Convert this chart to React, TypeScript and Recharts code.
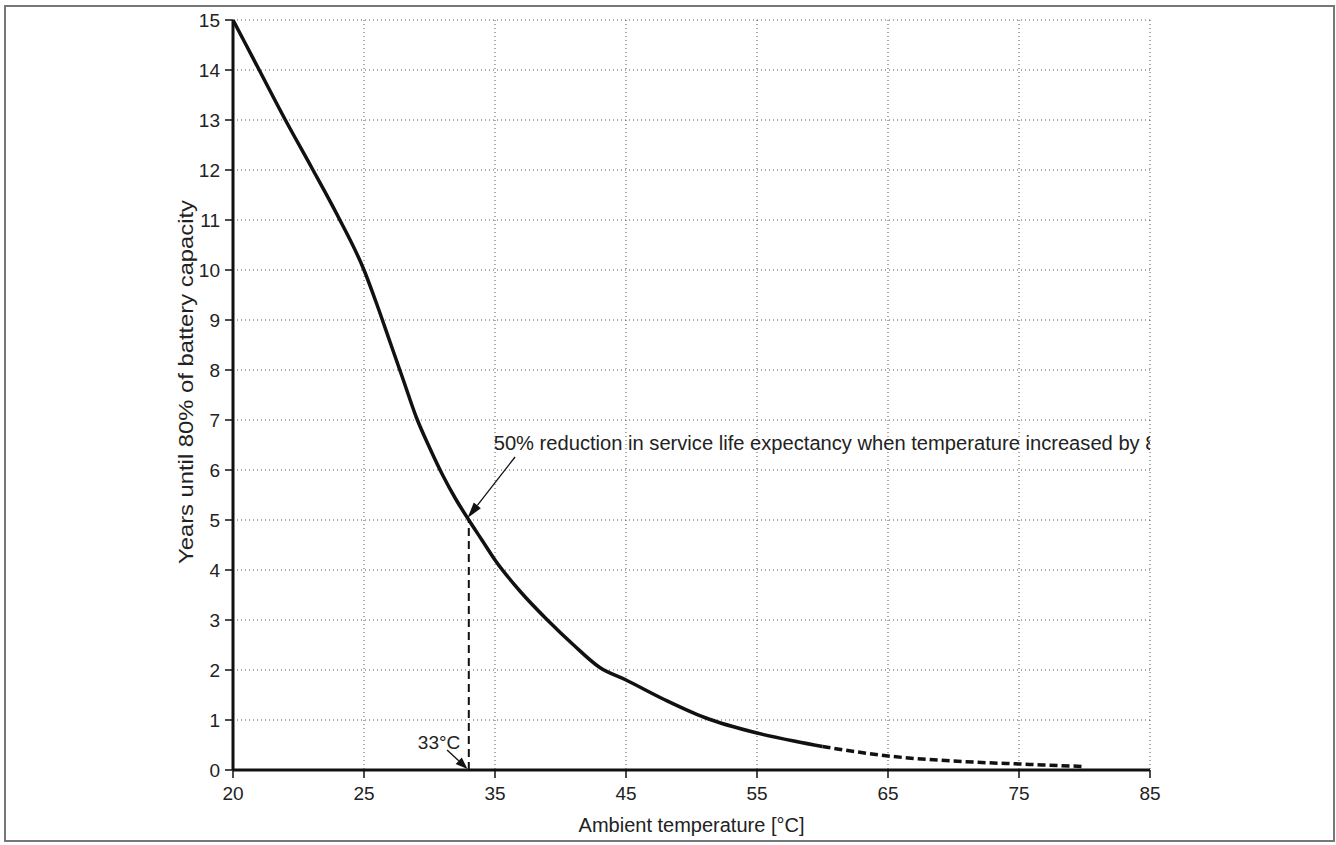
import React from "react";
import {
  LineChart,
  Line,
  XAxis,
  YAxis,
  CartesianGrid,
  ReferenceLine,
  ReferenceDot,
} from "recharts";

// temperature axis is printed unevenly: 20, 25 then 10 degree steps
const xTickLabels = ["20", "25", "35", "45", "55", "65", "75", "85"];
const yTicks = [0, 1, 2, 3, 4, 5, 6, 7, 8, 9, 10, 11, 12, 13, 14, 15];

// measured part of the curve
const tempSolid = [20, 21, 22, 23, 24, 25, 26, 27, 28, 29, 30, 31, 32, 33, 34, 35, 37, 39, 41, 43, 45, 48, 51, 55, 58, 60];
const yearsSolid = [15, 14, 13, 12.05, 11.08, 10, 9.3, 8.55, 7.8, 7.05, 6.45, 5.9, 5.42, 5.0, 4.6, 4.2, 3.55, 3.0, 2.5, 2.05, 1.8, 1.4, 1.05, 0.74, 0.57, 0.47];

// extrapolated part (dashed)
const tempDashed = [60, 65, 70, 75, 80];
const yearsDashed = [0.47, 0.28, 0.18, 0.12, 0.07];

const markTemp = 33;
const markYears = 5;

const FONT = "'Liberation Sans', Arial, sans-serif";
const INK = "#111";
const TEXT = "#222";

// chart box
const W = 1336;
const H = 845;
const M = { top: 20, right: 186, bottom: 15, left: 173 };
const Y_AXIS_W = 60;
const X_AXIS_H = 60;

// map a temperature onto the printed axis (one slot per tick)
const pos = (t: number) => (t <= 25 ? (t - 20) / 5 : 1 + (t - 25) / 10);

const solidData = tempSolid.map((t, i) => ({ x: pos(t), y: yearsSolid[i] }));
const dashedData = tempDashed.map((t, i) => ({ x: pos(t), y: yearsDashed[i] }));

const ArrowShape = (props: any) => {
  const { x1, y1, x2, y2 } = props;
  const ang = Math.atan2(y2 - y1, x2 - x1);
  const len = props.head ?? 14;
  const half = 4.5;
  const bx = x2 - len * Math.cos(ang);
  const by = y2 - len * Math.sin(ang);
  const px = -Math.sin(ang) * half;
  const py = Math.cos(ang) * half;
  return (
    <g>
      <line x1={x1} y1={y1} x2={bx} y2={by} stroke={INK} strokeWidth={1.3} />
      <polygon
        points={`${x2},${y2} ${bx + px},${by + py} ${bx - px},${by - py}`}
        fill={INK}
      />
    </g>
  );
};

const YLabel = (props: any) => {
  const { x, y, height } = props.viewBox;
  const cx = x + 12;
  const cy = y + height / 2 - 13;
  return (
    <text
      x={cx}
      y={cy}
      transform={`rotate(-90 ${cx} ${cy})`}
      textAnchor="middle"
      dominantBaseline="central"
      fill={TEXT}
      fontSize={21}
      textLength={364}
      lengthAdjust="spacingAndGlyphs"
    >
      Years until 80% of battery capacity
    </text>
  );
};

const XLabel = (props: any) => {
  const { x, y, width } = props.viewBox;
  return (
    <text
      x={x + width / 2}
      y={y + 55}
      textAnchor="middle"
      dominantBaseline="central"
      fill={TEXT}
      fontSize={20}
    >
      Ambient temperature [°C]
    </text>
  );
};

// annotation text is cut at the right edge of the plot, like the original
const NoteText = (p: any) => {
  const px = M.left + Y_AXIS_W;
  const pw = W - M.right - px;
  const ph = H - M.bottom - X_AXIS_H - M.top;
  return (
    <g>
      <defs>
        <clipPath id="noteClip">
          <rect x={px} y={M.top} width={pw} height={ph} />
        </clipPath>
      </defs>
      <text
        x={p.cx}
        y={p.cy}
        clipPath="url(#noteClip)"
        fill={TEXT}
        fontSize={20.15}
        dominantBaseline="central"
      >
        50% reduction in service life expectancy when temperature increased by 8°C
      </text>
    </g>
  );
};

export default function App() {
  return (
    <div
      style={{
        position: "absolute",
        left: 0,
        top: 0,
        width: W,
        height: H,
        fontFamily: FONT,
        background: "#fff",
      }}
    >
      <div
        style={{
          position: "absolute",
          left: 4,
          top: 5,
          width: 1327,
          height: 833,
          border: "2px solid #777",
        }}
      />
      <LineChart width={W} height={H} margin={M}>
        <CartesianGrid stroke="#555" strokeDasharray="1 3" strokeWidth={1} />
        <XAxis
          dataKey="x"
          type="number"
          domain={[0, 7]}
          ticks={[0, 1, 2, 3, 4, 5, 6, 7]}
          interval={0}
          allowDataOverflow
          tickFormatter={(v: number) => xTickLabels[v]}
          height={X_AXIS_H}
          tickSize={8}
          tickMargin={9}
          tick={{ fill: TEXT, fontSize: 19 }}
          axisLine={{ stroke: INK, strokeWidth: 3 }}
          tickLine={{ stroke: INK, strokeWidth: 1.5 }}
          label={XLabel}
        />
        <YAxis
          type="number"
          domain={[0, 15]}
          ticks={yTicks}
          interval={0}
          width={Y_AXIS_W}
          tickSize={8}
          tickMargin={5}
          tick={{ fill: TEXT, fontSize: 19 }}
          axisLine={{ stroke: INK, strokeWidth: 3 }}
          tickLine={{ stroke: INK, strokeWidth: 1.5 }}
          label={YLabel}
        />
        <ReferenceLine
          segment={[
            { x: pos(markTemp), y: 0 },
            { x: pos(markTemp), y: markYears },
          ]}
          stroke={INK}
          strokeWidth={2}
          strokeDasharray="8 5"
        />
        <Line
          data={solidData}
          dataKey="y"
          type="monotone"
          dot={false}
          stroke={INK}
          strokeWidth={3.5}
          isAnimationActive={false}
        />
        <Line
          data={dashedData}
          dataKey="y"
          type="monotone"
          dot={false}
          stroke={INK}
          strokeWidth={3.5}
          strokeDasharray="8 4"
          isAnimationActive={false}
        />
        {/* annotation: 50 % reduction */}
        <ReferenceLine
          segment={[
            { x: 2.153, y: 6.26 },
            { x: pos(markTemp) - 0.01, y: markYears + 0.04 },
          ]}
          shape={(p: any) => <ArrowShape {...p} head={16} />}
        />
        <ReferenceDot x={1.99} y={6.55} r={0} shape={NoteText} />
        {/* annotation: 33 °C */}
        <ReferenceLine
          segment={[
            { x: 1.634, y: 0.4 },
            { x: pos(markTemp) - 0.01, y: 0.02 },
          ]}
          shape={(p: any) => <ArrowShape {...p} head={12} />}
        />
        <ReferenceDot
          x={1.573}
          y={0.56}
          r={0}
          shape={(p: any) => (
            <text
              x={p.cx}
              y={p.cy}
              fill={TEXT}
              fontSize={19}
              textAnchor="middle"
              dominantBaseline="central"
            >
              33°C
            </text>
          )}
        />
      </LineChart>
    </div>
  );
}
